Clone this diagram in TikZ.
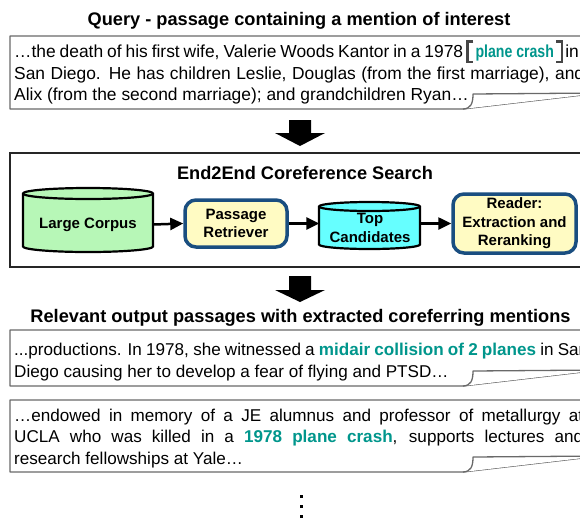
\documentclass[tikz,border=0pt]{standalone}
\usepackage{fontspec}
\setmainfont{Liberation Sans}
\usetikzlibrary{arrows.meta}

\definecolor{mention}{RGB}{0,150,140}
\definecolor{corpusgreen}{RGB}{183,247,183}
\definecolor{candcyan}{RGB}{102,255,255}
\definecolor{modelyellow}{RGB}{255,251,195}
\definecolor{modelblue}{RGB}{26,78,128}
\definecolor{framegray}{RGB}{105,105,105}
\definecolor{bracketgray}{RGB}{70,70,70}

\newcommand\hl[1]{\textcolor{mention}{\bfseries #1}}

% passage card with a curled lower right corner: top, bottom, curl level
\newcommand\curlcard[3]{%
  \draw[card] (10,#1) -- (600,#1) -- (600,#3-1) -- (463,#2) -- (10,#2) -- cycle;
  \draw[card] (600,#3-1) -- (473,#3) .. controls (473,#3+10) and (470.5,#2-0.3) .. (463,#2);
}

% database cylinder: left, right, top, bottom, cap radius, fill
\newcommand\storeshape[6]{%
  \filldraw[store, fill=#6] (#1,#3+#5) -- (#1,#4-#5)
    arc[start angle=180, end angle=0, x radius={(#2-#1)/2}, y radius=#5]
    -- (#2,#3+#5)
    arc[start angle=0, end angle=-180, x radius={(#2-#1)/2}, y radius=#5] -- cycle;
  \draw[store] (#1,#3+#5)
    arc[start angle=180, end angle=0, x radius={(#2-#1)/2}, y radius=#5];
}

\begin{document}
\begin{tikzpicture}[x=1pt, y=-1pt,
  body/.style={inner sep=0pt, anchor=base west, font=\fontsize{17.4}{21}\selectfont},
  result/.style={inner sep=0pt, anchor=base west, font=\fontsize{17.1}{21}\selectfont},
  heading/.style={inner sep=0pt, anchor=base, font=\fontsize{18.2}{22}\selectfont\bfseries},
  card/.style={draw=framegray, line width=1.3pt, fill=white, line join=round},
  model/.style={draw=modelblue, line width=3.5pt, fill=modelyellow, rounded corners=11pt,
    align=center, inner sep=0pt, font=\fontsize{15}{18.5}\selectfont\bfseries},
  storelabel/.style={align=center, inner sep=0pt, font=\fontsize{15}{18.5}\selectfont\bfseries},
  store/.style={draw=black, line width=2.2pt},
  flow/.style={line width=2.5pt, -{Triangle[length=13pt, width=12pt]}},
  bigarrow/.style={fill=black},
  bracket/.style={draw=bracketgray, line width=2.3pt},
  searchframe/.style={draw=black!85, line width=1.5pt, fill=white},
]
\useasboundingbox (0,0) rectangle (580,517);
\clip (0,0) rectangle (580,517);

% ---------- query ----------
\node[heading] (qtitle) at (299,25.5) {Query - passage containing a mention of interest};
\curlcard{36}{109}{94}
\node[body] (q1) at (14,57) {\makebox[449pt][s]{…the death of his first wife, Valerie Woods Kantor in a 1978}};
\node[body, text=mention, font=\fontsize{17.4}{21}\selectfont\bfseries]
  (qm) at ([xshift=12pt]q1.base east) {\scalebox{0.81}[1]{plane crash}};
\node[body] (q1b) at ([xshift=11pt]qm.base east) {in};
\draw[bracket] ([xshift=-2pt, yshift=15.5pt]qm.base west) -- ++(-6,0) -- ++(0,20.5) -- ++(6,0);
\draw[bracket] ([xshift=2pt, yshift=15.5pt]qm.base east) -- ++(6,0) -- ++(0,20.5) -- ++(-6,0);
\node[body] (q2) at (14,79) {\makebox[570pt][s]{San Diego. He has children Leslie, Douglas (from the first marriage), and}};
\node[body] (q3) at (14,100) {Alix (from the second marriage); and grandchildren Ryan…};

\fill[bigarrow] (289,120) -- (311,120) -- (311,133) -- (325,133) -- (300,146)
  -- (275,133) -- (289,133) -- cycle;

% ---------- search pipeline ----------
\draw[searchframe] (10,153) rectangle (600,267);
\node[heading] (stitle) at (305,179.5) {End2End Coreference Search};

\storeshape{23}{153}{188}{252}{5.5}{corpusgreen}
\node[storelabel, minimum width=130pt] (corpus) at (88,224.5) {Large Corpus};

\node[model, minimum width=102pt, minimum height=47pt] (retriever) at (236,223.5)
  {Passage\\Retriever};

\storeshape{319}{420}{202}{249}{4.5}{candcyan}
\node[storelabel, minimum width=101pt] (cand) at (370,228) {Top\\Candidates};

\node[model, minimum width=123pt, minimum height=59pt] (reader) at (514.5,223.5)
  {Reader:\\Extraction and\\Reranking};

\draw[flow] (corpus.east) -- (retriever.west);
\draw[flow] (retriever.east) -- (retriever.east -| cand.west);
\draw[flow] (cand.east |- reader.west) -- (reader.west);

\fill[bigarrow] (289,276) -- (311,276) -- (311,290) -- (325,290) -- (300,302)
  -- (275,290) -- (289,290) -- cycle;

% ---------- retrieved passages ----------
\node[heading] (otitle) at (300.5,322.5) {Relevant output passages with extracted coreferring mentions};

\curlcard{330}{386}{371}
\node[result] (a1) at (14,355) {\makebox[574pt][s]{...productions. In 1978, she witnessed a \hl{midair collision of 2 planes} in San}};
\node[result] (a2) at (14,377) {Diego causing her to develop a fear of flying and PTSD…};

\curlcard{400}{472}{457}
\node[result] (b1) at (14,421) {\makebox[569pt][s]{…endowed in memory of a JE alumnus and professor of metallurgy at}};
\node[result] (b2) at (14,442.5) {\makebox[569pt][s]{UCLA who was killed in a \hl{1978 plane crash}, supports lectures and}};
\node[result] (b3) at (14,464) {research fellowships at Yale…};

% vertical ellipsis: more passages follow
\node[inner sep=0pt, minimum width=3pt, minimum height=23pt] (more) at (302,507) {};
\foreach \k in {0,1,2}
  \fill ([xshift=-1.5pt, yshift=-\k*10pt]more.north west) ++(1.5,0) rectangle ++(3,3);
\end{tikzpicture}
\end{document}
